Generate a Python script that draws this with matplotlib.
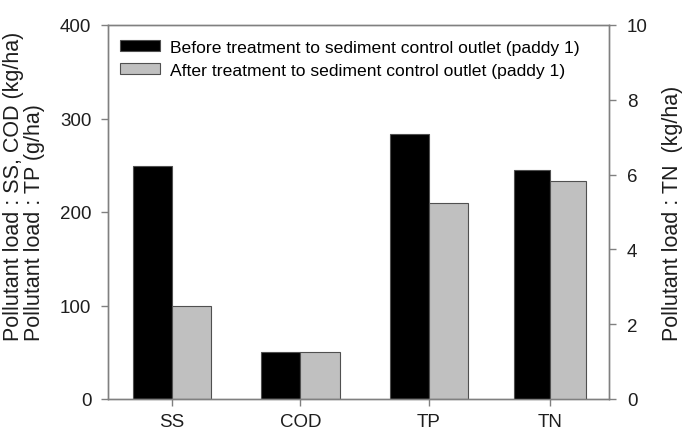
import matplotlib
matplotlib.use("Agg")
import matplotlib.pyplot as plt
import numpy as np

plt.rcParams['font.family'] = ['Liberation Sans', 'DejaVu Sans']

categories = ["SS", "COD", "TP", "TN"]
before_left = [249, 50, 283]      # SS, COD (kg/ha), TP (g/ha)
after_left = [100, 50, 210]
before_tn = [6.12]                # TN (kg/ha)
after_tn = [5.83]
left_ticks = [0, 100, 200, 300, 400]
right_ticks = [0, 2, 4, 6, 8, 10]
label_before = "Before treatment to sediment control outlet (paddy 1)"
label_after = "After treatment to sediment control outlet (paddy 1)"

fig = plt.figure(figsize=(6.86, 4.35), dpi=100)
ax = fig.add_axes([108/686, 35/435, 501/686, 374/435])
ax2 = ax.twinx()

spine_c = "#808080"
edge_c = "#505050"
gray_c = "#c0c0c0"
text_c = "#1e1e1e"

pos = np.array([0, 1, 2, 2.945])
w = 0.305
wtn = 0.28

ax.bar(pos[:3] - w/2, before_left, w, color="black", edgecolor=edge_c, linewidth=0.8, label=label_before)
ax.bar(pos[:3] + w/2, after_left, w, color=gray_c, edgecolor=edge_c, linewidth=0.8, label=label_after)
ax2.bar(pos[3:] - wtn/2, before_tn, wtn, color="black", edgecolor=edge_c, linewidth=0.8)
ax2.bar(pos[3:] + wtn/2, after_tn, wtn, color=gray_c, edgecolor=edge_c, linewidth=0.8)

ax.set_xlim(-0.5, 3.406)
ax.set_ylim(0, 400)
ax2.set_ylim(0, 10)
ax.set_yticks(left_ticks)
ax2.set_yticks(right_ticks)
ax.set_xticks(pos)
ax.set_xticklabels(categories)

for a in (ax, ax2):
    for s in a.spines.values():
        s.set_color(spine_c)
        s.set_linewidth(1.0)
    a.tick_params(colors=spine_c, labelcolor=text_c, labelsize=13.5, length=5, width=1.0)
ax.tick_params(axis='x', pad=5)
ax.tick_params(axis='y', pad=7)
ax2.tick_params(axis='y', pad=8)

ax.set_ylabel("Pollutant load : SS, COD (kg/ha)\nPollutant load : TP (g/ha)", fontsize=15.5,
              color=text_c, linespacing=1.05, multialignment='left')
ax.yaxis.set_label_coords(-0.125, 0.57)
ax2.set_ylabel("Pollutant load : TN  (kg/ha)", fontsize=15.5, color=text_c)
ax2.yaxis.set_label_coords(1.106, 0.5)

ax.legend(loc="upper left", bbox_to_anchor=(12/501, 1 - 15/374), frameon=False, fontsize=12.6,
          handlelength=2.3, handleheight=0.6, handletextpad=0.55, labelspacing=0.45,
          borderpad=0, borderaxespad=0)

fig.savefig("out.png", dpi=100)
